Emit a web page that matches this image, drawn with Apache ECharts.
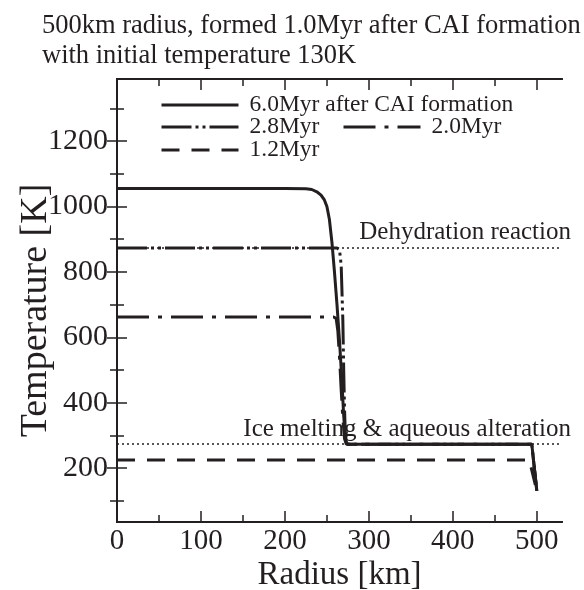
<!DOCTYPE html>
<html>
<head>
<meta charset="utf-8">
<script src="https://cdn.jsdelivr.net/npm/echarts@6/dist/echarts.min.js"></script>
<style>
  html, body { margin: 0; padding: 0; background: #fff; }
  #main { width: 584px; height: 590px; }
</style>
</head>
<body>
<div id="main"></div>
<script>
// radius [km] / temperature [K]
const r60 = [0, 200, 225, 232, 238, 243, 247, 250, 253, 256, 259, 262, 265, 268, 270, 272, 275, 494, 500]
const t60 = [1055, 1055, 1054, 1052, 1045, 1035, 1020, 1000, 960, 890, 800, 700, 590, 460, 360, 285, 273, 273, 130]
const r28 = [0, 262, 265, 267, 269, 270, 271, 272, 274, 494, 500]
const t28 = [873, 873, 868, 820, 650, 500, 380, 300, 273, 273, 130]
const r20 = [0, 258, 261, 263, 265, 267, 269, 271, 273, 494, 500]
const t20 = [662, 662, 658, 620, 540, 440, 350, 290, 273, 273, 130]
const r12 = [0, 491, 500]
const t12 = [225, 225, 130]

const dehydrationT = 875
const iceMeltT = 273

const yLabels = [200, 400, 600, 800, 1000, 1200]
const yMinor = [100, 300, 500, 700, 900, 1100, 1300]
const xLabels = [0, 100, 200, 300, 400, 500]
const xMinor = [50, 150, 250, 350, 450]

const ink = '#231f20'
const serif = 'Liberation Serif'
const X_MIN = 0, X_MAX = 530, Y_MIN = 35, Y_MAX = 1390

const pairs = (xs, ys) => xs.map((x, i) => [x, ys[i]])

const chart = echarts.init(document.getElementById('main'))

const xAx = (pos, ticks, len, labels) => ({
  type: 'value', position: pos, min: X_MIN, max: X_MAX,
  axisLine: { show: true, lineStyle: { color: ink, width: 2 } },
  axisTick: { show: true, inside: true, length: len, customValues: ticks, lineStyle: { color: ink, width: 1.5 } },
  axisLabel: labels ? { show: true, customValues: labels, formatter: v => String(v), color: ink, fontFamily: serif, fontSize: 29, margin: 5 } : { show: false },
  splitLine: { show: false },
})
const yAx = (pos, ticks, len, labels) => ({
  type: 'value', position: pos, min: Y_MIN, max: Y_MAX,
  axisLine: { show: true, lineStyle: { color: ink, width: 2 } },
  axisTick: { show: true, inside: true, length: len, customValues: ticks, lineStyle: { color: ink, width: 1.5 } },
  axisLabel: labels ? { show: true, customValues: labels, formatter: v => String(v), color: ink, fontFamily: serif, fontSize: 30, margin: 9 } : { show: false },
  splitLine: { show: false },
})

const xMain = xAx('bottom', xLabels.filter(v => v > 0), 11, xLabels)
xMain.name = 'Radius [km]'
xMain.nameLocation = 'middle'
xMain.nameGap = 37
xMain.nameMoveOverlap = false
xMain.nameTextStyle = { color: ink, fontFamily: serif, fontSize: 33 }
const yMain = yAx('left', yLabels, 10, yLabels)
yMain.name = 'Temperature [K]'
yMain.nameLocation = 'middle'
yMain.nameGap = 62
yMain.nameMoveOverlap = false
yMain.nameTextStyle = { color: ink, fontFamily: serif, fontSize: 38, padding: [0, 20, 0, 0] }

const lineSeries = (name, data, type) => ({
  name: name, type: 'line', data: data, symbol: 'none', smooth: false,
  xAxisIndex: 0, yAxisIndex: 0,
  lineStyle: { color: ink, width: 3, type: type },
  itemStyle: { color: ink },
  z: 3,
})

const legendAt = (name, left, top) => ({
  data: [name], left: left, top: top, orient: 'horizontal',
  itemWidth: 77, itemHeight: 14, itemGap: 0,
  itemStyle: { opacity: 0 },
  lineStyle: { width: 3 },
  textStyle: { color: ink, fontFamily: serif, fontSize: 23.5, padding: [0, 0, 0, 6] },
  selectedMode: false,
})

chart.setOption({
  animation: false,
  title: {
    text: '500km radius, formed 1.0Myr after CAI formation\nwith initial temperature 130K',
    left: 37, top: 6,
    textStyle: { color: ink, fontFamily: serif, fontSize: 26.5, fontWeight: 'normal', lineHeight: 30 },
  },
  grid: { left: 117, right: 22, top: 79, bottom: 68, outerBoundsMode: 'none', containLabel: false },
  legend: [
    legendAt('6.0Myr after CAI formation', 155, 88),
    legendAt('2.8Myr', 155, 110),
    legendAt('2.0Myr', 337, 110),
    legendAt('1.2Myr', 155, 133),
  ],
  xAxis: [
    xMain,
    xAx('bottom', xMinor, 7, null),
    xAx('top', xLabels.filter(v => v > 0), 11, null),
    xAx('top', xMinor, 7, null),
  ],
  yAxis: [
    yMain,
    yAx('left', yMinor, 7, null),
    yAx('right', yLabels, 10, null),
    yAx('right', yMinor, 7, null),
  ],
  series: [
    {
      name: 'levels', type: 'line', data: [], symbol: 'none',
      markLine: {
        silent: true, symbol: 'none',
        lineStyle: { color: ink, width: 1.5, type: [2, 3] },
        label: { show: true, position: 'insideEndTop', color: ink, fontFamily: serif, fontSize: 25, distance: [-9, 2] },
        data: [
          { yAxis: dehydrationT, label: { formatter: 'Dehydration reaction' } },
          { yAxis: iceMeltT, label: { formatter: 'Ice melting & aqueous alteration' } },
        ],
      },
    },
    lineSeries('1.2Myr', pairs(r12, t12), [18, 12]),
    lineSeries('2.0Myr', pairs(r20, t20), [32, 9, 4, 9]),
    lineSeries('2.8Myr', pairs(r28, t28), [30, 4, 3, 4, 3, 4]),
    lineSeries('6.0Myr after CAI formation', pairs(r60, t60), 'solid'),
  ],
})
</script>
</body>
</html>
